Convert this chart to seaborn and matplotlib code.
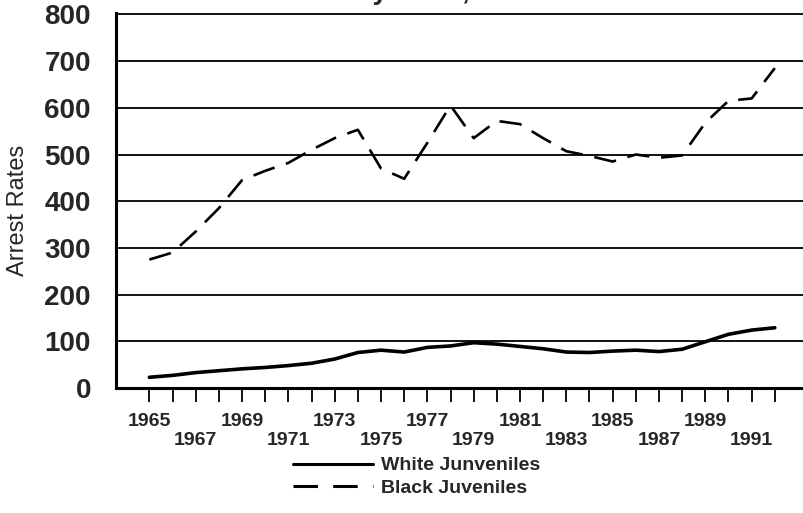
import numpy as np
import pandas as pd
import matplotlib
matplotlib.use("Agg")
import matplotlib.pyplot as plt
from matplotlib.lines import Line2D
import seaborn as sns

# --- données ---
years = list(range(1965, 1993))
white = [23, 27, 33, 37, 41, 44, 48, 53, 62, 76, 81, 77, 87, 90,
         97, 94, 89, 84, 77, 76, 79, 81, 78, 83, 99, 115, 124, 129]
black = [275, 290, 335, 385, 445, 465, 482, 510, 535, 553, 470, 448, 525, 605,
         535, 572, 565, 535, 507, 497, 485, 500, 493, 498, 568, 615, 620, 685]
row1_years = [1965, 1969, 1973, 1977, 1981, 1985, 1989]
row2_years = [1967, 1971, 1975, 1979, 1983, 1987, 1991]
y_ticks = [0, 100, 200, 300, 400, 500, 600, 700, 800]
labels = ["White Junveniles", "Black Juveniles"]

df = pd.DataFrame({"year": years, "white": white, "black": black})

sns.set_style("white")
plt.rcParams['font.family'] = ['Liberation Sans', 'DejaVu Sans']

fig = plt.figure(figsize=(8.04, 5.13), dpi=100)
ax = fig.add_axes([116 / 804, 125 / 513, (804 - 116) / 804, 375 / 513])

# --- courbes ---
sns.lineplot(data=df, x="year", y="white", ax=ax, color="black", lw=2.6)
sns.lineplot(data=df, x="year", y="black", ax=ax, color="black", lw=1.9)
ax.lines[-1].set_dashes((8.5, 4.5))

# --- axes ---
ax.set_xlim(1963.56, 1993.26)
ax.set_ylim(0, 803)
ax.set_yticks(y_ticks)
ax.set_yticklabels([str(v) for v in y_ticks], fontsize=20, fontweight="bold")
ax.tick_params(axis="y", left=False, length=0, pad=18)
for v in y_ticks[1:]:
    ax.axhline(v, color="black", lw=1.3, zorder=0)

ax.set_xticks(years)
xlab = []
for y in years:
    if y in row1_years:
        xlab.append(str(y))
    elif y in row2_years:
        xlab.append("\n" + str(y))
    else:
        xlab.append("")
ax.set_xticklabels(xlab, fontsize=14, fontweight="bold", linespacing=1.12)
ax.tick_params(axis="x", bottom=True, direction="out", length=10, width=1.3,
               color="black", pad=8)

ax.set_xlabel("")
ax.set_ylabel("Arrest Rates", fontsize=17)
ax.yaxis.set_label_coords(-0.127, 0.475)

for s in ["top", "right"]:
    ax.spines[s].set_visible(False)
for s in ["left", "bottom"]:
    ax.spines[s].set_color("black")
    ax.spines[s].set_linewidth(2.2)

# --- légende ---
handles = [Line2D([], [], color="black", lw=2.2),
           Line2D([], [], color="black", lw=2.2, dashes=(8, 5))]
fig.legend(handles, labels, loc="upper left", bbox_to_anchor=(285 / 804, 1 - 449 / 513),
           frameon=False, prop={"weight": "bold", "size": 14}, handlelength=4.1,
           handletextpad=0.45, labelspacing=0.25, borderaxespad=0)

# --- titre (coupé en haut) ---
title = "Arrest Rates by Race, 1965\u20131992"
renderer = fig.canvas.get_renderer()
probe = fig.text(0, 0, "Arrest Rates b", fontsize=20, fontweight="bold")
w_prefix = probe.get_window_extent(renderer).width
probe.remove()
fig.text((380 - w_prefix - 7) / 804, 1.002, title, fontsize=20, fontweight="bold",
         va="baseline", ha="left")

fig.savefig("out.png", dpi=100)
